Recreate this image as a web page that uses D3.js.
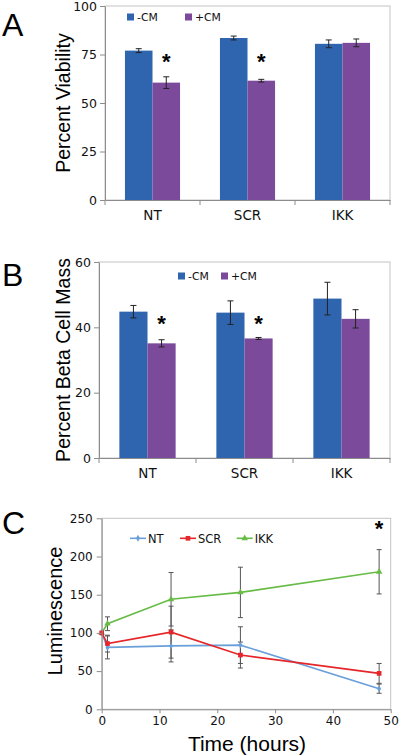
<!DOCTYPE html>
<html><head><meta charset="utf-8">
<script src="https://cdn.jsdelivr.net/npm/d3@7"></script>
<style>
html,body{margin:0;padding:0;background:#fff;}
svg{display:block;}
</style></head>
<body>
<svg id="chart" width="400" height="755"></svg>
<script>
// ---------- DATA ----------
const barCategories = ["NT", "SCR", "IKK"];
const barSeries = ["-CM", "+CM"];
// Panel A: Percent Viability
const viabilityMinusCM = [77, 83.5, 80.5];
const viabilityMinusCMErr = [1, 1, 2];
const viabilityPlusCM = [60.5, 61.5, 81];
const viabilityPlusCMErr = [3, 0.7, 2];
const viabilityTicks = [0, 25, 50, 75, 100];
const viabilitySig = ["NT", "SCR"];
// Panel B: Percent Beta Cell Mass
const massMinusCM = [44.8, 44.5, 48.8];
const massMinusCMErr = [1.9, 3.6, 5];
const massPlusCM = [35.1, 36.6, 42.6];
const massPlusCMErr = [1.1, 0.3, 2.8];
const massTicks = [0, 20, 40, 60];
const massSig = ["NT", "SCR"];
// Panel C: Luminescence over time
const timeHours = [0, 1, 12, 24, 48];
const lumSeries = ["NT", "SCR", "IKK"];
const lumNT = [100, 81, 83, 84, 27];
const lumNTErr = [0, 15, 21, 24, 6];
const lumSCR = [100, 86, 101, 71, 47];
const lumSCRErr = [0, 11, 34, 17, 13];
const lumIKK = [100, 112, 144, 153, 180];
const lumIKKErr = [0, 9, 35, 33, 29];
const lumYTicks = [0, 50, 100, 150, 200, 250];
const lumXTicks = [0, 10, 20, 30, 40, 50];

// ---------- STYLE ----------
const barColors = {"-CM": "#2F65AF", "+CM": "#7C4A9B"};
const lineColors = {"NT": "#6A9FDA", "SCR": "#E5262A", "IKK": "#67BC46"};
const tickFont = "DejaVu Sans, Verdana, sans-serif";
const labelFont = "Liberation Sans, Arial, sans-serif";
const axisColor = "#8c8c8c";
const borderColor = "#c4c4c4";

const svg = d3.select("#chart");

function panelLetter(t, x, y) {
  svg.append("text").attr("x", x).attr("y", y).text(t)
    .attr("font-family", labelFont).attr("font-size", 32).attr("fill", "#000");
}

function frame(g, x0, x1, y0, y1) {
  g.append("rect").attr("x", x0).attr("y", y0).attr("width", x1 - x0).attr("height", y1 - y0)
    .attr("fill", "none").attr("stroke", borderColor).attr("stroke-width", 1);
}

function styleAxis(sel, fs) {
  sel.selectAll("path").attr("stroke", axisColor);
  sel.selectAll("line").attr("stroke", axisColor);
  sel.selectAll("text").attr("font-family", tickFont).attr("font-size", fs).attr("fill", "#111");
}

function barPanel(opts) {
  const {x0, x1, y0, y1, domainMax, ticks, minus, minusErr, plus, plusErr, sig, ylabel, labelX, legend, sigY} = opts;
  const g = svg.append("g");
  const x = d3.scaleBand().domain(barCategories).range([x0, x1]).paddingInner(0.42).paddingOuter(0.21);
  const xs = d3.scaleBand().domain(barSeries).range([0, x.bandwidth()]);
  const y = d3.scaleLinear().domain([0, domainMax]).range([y1, y0]);
  frame(g, x0, x1, y0, y1);
  const data = barCategories.map((c, i) => ({
    cat: c,
    vals: [
      {s: "-CM", v: minus[i], e: minusErr[i]},
      {s: "+CM", v: plus[i], e: plusErr[i]}
    ]
  }));
  const grp = g.selectAll(".grp").data(data).join("g")
    .attr("transform", d => `translate(${x(d.cat)},0)`);
  grp.selectAll("rect.bar").data(d => d.vals).join("rect")
    .attr("class", "bar")
    .attr("x", d => xs(d.s)).attr("width", xs.bandwidth())
    .attr("y", d => y(d.v)).attr("height", d => y(0) - y(d.v))
    .attr("fill", d => barColors[d.s]);
  // error bars
  const eb = grp.selectAll("g.eb").data(d => d.vals).join("g").attr("class", "eb")
    .attr("stroke", "#222").attr("stroke-width", 1);
  eb.append("line")
    .attr("x1", d => xs(d.s) + xs.bandwidth() / 2).attr("x2", d => xs(d.s) + xs.bandwidth() / 2)
    .attr("y1", d => y(d.v - d.e)).attr("y2", d => y(d.v + d.e));
  eb.append("line")
    .attr("x1", d => xs(d.s) + xs.bandwidth() / 2 - 3).attr("x2", d => xs(d.s) + xs.bandwidth() / 2 + 3)
    .attr("y1", d => y(d.v + d.e)).attr("y2", d => y(d.v + d.e));
  eb.append("line")
    .attr("x1", d => xs(d.s) + xs.bandwidth() / 2 - 3).attr("x2", d => xs(d.s) + xs.bandwidth() / 2 + 3)
    .attr("y1", d => y(d.v - d.e)).attr("y2", d => y(d.v - d.e));
  // significance asterisks
  g.selectAll("text.sig").data(sig).join("text").attr("class", "sig")
    .attr("x", d => x(d) + xs("+CM") + xs.bandwidth() / 2)
    .attr("y", sigY)
    .attr("text-anchor", "middle")
    .attr("font-family", labelFont).attr("font-size", 22).attr("font-weight", "bold")
    .text("*");
  // axes
  const ya = g.append("g").attr("transform", `translate(${x0},0)`)
    .call(d3.axisLeft(y).tickValues(ticks).tickSize(5).tickSizeOuter(0).tickPadding(3));
  styleAxis(ya, 12.5);
  const xa = g.append("g").attr("transform", `translate(0,${y1})`)
    .call(d3.axisBottom(x).tickSize(0).tickPadding(10));
  styleAxis(xa, 13.5);
  // category separator ticks
  const seps = [x0, ...barCategories.slice(1).map(c => x(c) - x.step() * x.paddingInner() / 2), x1];
  g.selectAll("line.sep").data(seps).join("line").attr("class", "sep")
    .attr("x1", d => d).attr("x2", d => d).attr("y1", y1).attr("y2", y1 + 5)
    .attr("stroke", axisColor);
  // y label
  g.append("text").attr("transform", `translate(${labelX},${(y0 + y1) / 2}) rotate(-90)`)
    .attr("text-anchor", "middle").attr("font-family", labelFont).attr("font-size", 19.5)
    .attr("fill", "#000").text(ylabel);
  // legend
  barSeries.forEach((s, i) => {
    const lx = legend.x[i];
    g.append("rect").attr("x", lx).attr("y", legend.y - 3.5).attr("width", 7).attr("height", 7)
      .attr("fill", barColors[s]);
    g.append("text").attr("x", lx + 10).attr("y", legend.y + 4).text(s)
      .attr("font-family", tickFont).attr("font-size", 10.8).attr("fill", "#111");
  });
}

panelLetter("A", 2, 36);
barPanel({x0: 105, x1: 390, y0: 6, y1: 200, domainMax: 100, ticks: viabilityTicks,
  minus: viabilityMinusCM, minusErr: viabilityMinusCMErr, plus: viabilityPlusCM, plusErr: viabilityPlusCMErr,
  sig: viabilitySig, ylabel: "Percent Viability", labelX: 70, legend: {x: [127, 185], y: 17}, sigY: 69});

panelLetter("B", 2, 286);
barPanel({x0: 99, x1: 390, y0: 262, y1: 458, domainMax: 60, ticks: massTicks,
  minus: massMinusCM, minusErr: massMinusCMErr, plus: massPlusCM, plusErr: massPlusCMErr,
  sig: massSig, ylabel: "Percent Beta Cell Mass", labelX: 70, legend: {x: [178, 221], y: 276}, sigY: 331});

// ---------- Panel C ----------
panelLetter("C", 2, 534);
(function () {
  const x0 = 101.7, x1 = 390.7, y0 = 518.3, y1 = 709.3;
  const g = svg.append("g");
  const x = d3.scaleLinear().domain([0, 50]).range([x0, x1]);
  const y = d3.scaleLinear().domain([0, 250]).range([y1, y0]);
  frame(g, x0, x1, y0, y1);
  const seriesData = {
    "NT": {v: lumNT, e: lumNTErr, sym: d3.symbolDiamond, size: 14},
    "SCR": {v: lumSCR, e: lumSCRErr, sym: d3.symbolSquare, size: 22},
    "IKK": {v: lumIKK, e: lumIKKErr, sym: d3.symbolTriangle, size: 18}
  };
  const order = ["IKK", "NT", "SCR"];
  // error bars first
  order.forEach(s => {
    const d = timeHours.map((t, i) => ({t, v: seriesData[s].v[i], e: seriesData[s].e[i]})).filter(p => p.e > 0);
    const eb = g.append("g").attr("stroke", "#555").attr("stroke-width", 1);
    eb.selectAll("line.v").data(d).join("line")
      .attr("x1", p => x(p.t)).attr("x2", p => x(p.t)).attr("y1", p => y(p.v - p.e)).attr("y2", p => y(p.v + p.e));
    eb.selectAll("line.t").data(d).join("line")
      .attr("x1", p => x(p.t) - 2.5).attr("x2", p => x(p.t) + 2.5).attr("y1", p => y(p.v + p.e)).attr("y2", p => y(p.v + p.e));
    eb.selectAll("line.b").data(d).join("line")
      .attr("x1", p => x(p.t) - 2.5).attr("x2", p => x(p.t) + 2.5).attr("y1", p => y(p.v - p.e)).attr("y2", p => y(p.v - p.e));
  });
  const line = d3.line().x(p => x(p.t)).y(p => y(p.v));
  order.forEach(s => {
    const d = timeHours.map((t, i) => ({t, v: seriesData[s].v[i]}));
    g.append("path").datum(d).attr("d", line).attr("fill", "none")
      .attr("stroke", lineColors[s]).attr("stroke-width", 1.6);
    g.selectAll(null).data(d).join("path")
      .attr("transform", p => `translate(${x(p.t)},${y(p.v)})`)
      .attr("d", d3.symbol().type(seriesData[s].sym).size(seriesData[s].size))
      .attr("fill", lineColors[s]);
  });
  // axes
  const ya = g.append("g").attr("transform", `translate(${x0},0)`)
    .call(d3.axisLeft(y).tickValues(lumYTicks).tickSize(5).tickSizeOuter(0).tickPadding(4));
  styleAxis(ya, 12);
  const xa = g.append("g").attr("transform", `translate(0,${y1})`)
    .call(d3.axisBottom(x).tickValues(lumXTicks).tickSize(4).tickSizeOuter(0).tickPadding(3));
  styleAxis(xa, 12);
  // labels
  g.append("text").attr("transform", `translate(62,611) rotate(-90)`)
    .attr("text-anchor", "middle").attr("font-family", labelFont).attr("font-size", 20)
    .attr("fill", "#000").text("Luminescence");
  g.append("text").attr("x", 247).attr("y", 751)
    .attr("text-anchor", "middle").attr("font-family", labelFont).attr("font-size", 21)
    .attr("fill", "#000").text("Time (hours)");
  // asterisk
  g.append("text").attr("x", x(48)).attr("y", 536).attr("text-anchor", "middle")
    .attr("font-family", labelFont).attr("font-size", 22).attr("font-weight", "bold").text("*");
  // legend
  const legX = [130, 180, 236.7];
  lumSeries.forEach((s, i) => {
    const lx = legX[i], ly = 538.3;
    g.append("line").attr("x1", lx).attr("x2", lx + 16).attr("y1", ly).attr("y2", ly)
      .attr("stroke", lineColors[s]).attr("stroke-width", 1.6);
    g.append("path").attr("transform", `translate(${lx + 8},${ly})`)
      .attr("d", d3.symbol().type(seriesData[s].sym).size(seriesData[s].size)).attr("fill", lineColors[s]);
    g.append("text").attr("x", lx + 18).attr("y", ly + 4.3).text(s)
      .attr("font-family", tickFont).attr("font-size", 11.5).attr("fill", "#111");
  });
})();
</script>
</body></html>
